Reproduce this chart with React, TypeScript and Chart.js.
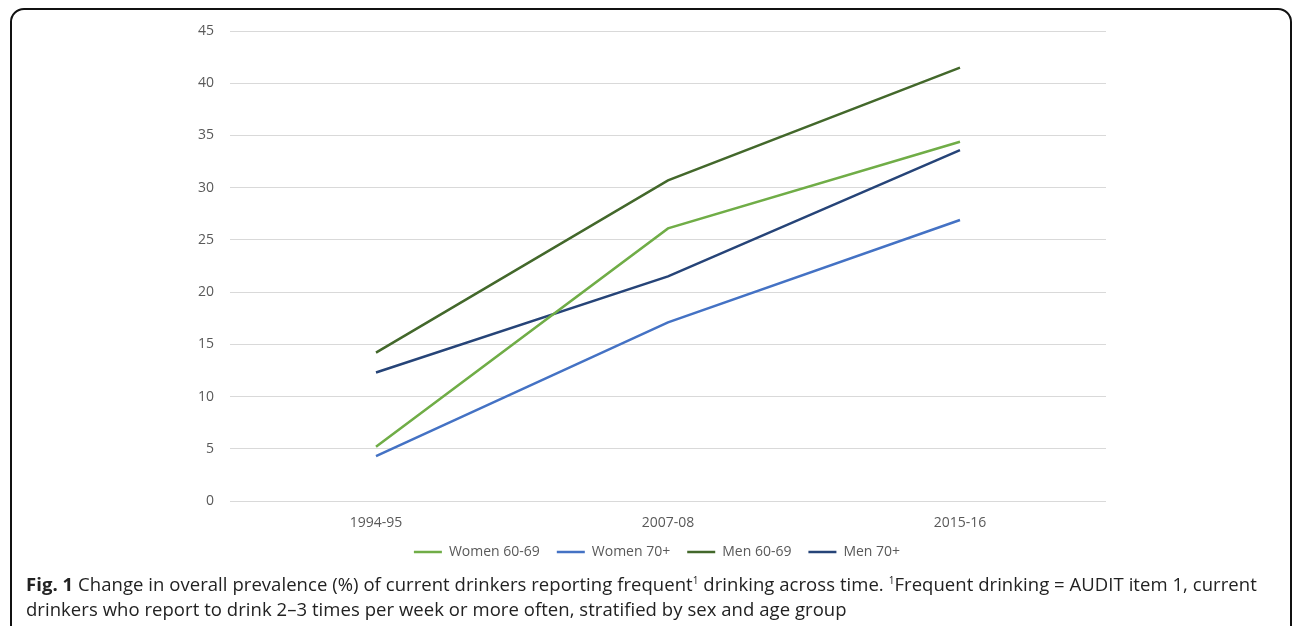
import React, { useEffect, useRef } from "react";
import { Chart, registerables } from "chart.js";

Chart.register(...registerables);

const categories = ["1994-95", "2007-08", "2015-16"];
const women6069 = [5.2, 26.1, 34.4];
const women70 = [4.3, 17.1, 26.9];
const men6069 = [14.2, 30.7, 41.5];
const men70 = [12.3, 21.5, 33.6];
const seriesNames = ["Women 60-69", "Women 70+", "Men 60-69", "Men 70+"];
const seriesColors = ["#70AD47", "#4472C4", "#43682B", "#264478"];

const FONT = "'Open Sans', 'Noto Sans', sans-serif";

const legendShift = {
  id: "legendShift",
  afterLayout(chart: any) {
    const lg = chart.legend;
    if (!lg) return;
    const dx = 104;
    const dy = -7;
    lg.left += dx;
    lg.right += dx;
    lg.top += dy;
    lg.bottom += dy;
    if (lg.legendHitBoxes) {
      lg.legendHitBoxes.forEach((b: any) => {
        b.left += dx;
        b.top += dy;
      });
    }
  },
};

export default function App() {
  const ref = useRef<HTMLCanvasElement | null>(null);

  useEffect(() => {
    if (!ref.current) return;
    const values = [women6069, women70, men6069, men70];
    const chart = new Chart(ref.current, {
      type: "line",
      data: {
        labels: categories,
        datasets: values.map((v, i) => ({
          label: seriesNames[i],
          data: v,
          borderColor: seriesColors[i],
          backgroundColor: seriesColors[i],
          borderWidth: 2.5,
          pointRadius: 0,
          tension: 0,
          fill: false,
        })),
      },
      plugins: [legendShift],
      options: {
        responsive: false,
        animation: false,
        layout: { padding: { left: 0, right: 186, top: 31, bottom: 0 } },
        plugins: {
          tooltip: { enabled: false },
          legend: {
            position: "bottom",
            labels: {
              usePointStyle: true,
              pointStyle: "line",
              pointStyleWidth: 28,
              boxHeight: 14,
              padding: 17,
              color: "#595959",
              font: { family: FONT, size: 14 },
            },
          },
        },
        scales: {
          x: {
            offset: true,
            grid: { display: false },
            border: { display: false },
            ticks: { color: "#595959", font: { family: FONT, size: 14 }, padding: 6 },
            afterFit: (s: any) => {
              s.height = 34;
            },
          },
          y: {
            min: 0,
            max: 45,
            grid: { color: "#d9d9d9", lineWidth: 1, drawTicks: false },
            border: { display: false },
            ticks: {
              stepSize: 5,
              color: "#595959",
              font: { family: FONT, size: 14 },
              padding: 16,
            },
            afterFit: (s: any) => {
              s.width = 230;
            },
          },
        },
      },
    });
    return () => chart.destroy();
  }, []);

  return (
    <div
      style={{
        position: "absolute",
        left: 0,
        top: 0,
        width: 1292,
        height: 626,
        overflow: "hidden",
        background: "#fff",
      }}
    >
      <div
        style={{
          position: "absolute",
          left: 10,
          top: 8,
          width: 1278,
          height: 700,
          border: "2px solid #111",
          borderRadius: 14,
        }}
      />
      <canvas
        ref={ref}
        width={1292}
        height={576}
        style={{ position: "absolute", left: 0, top: 0 }}
      />
      <div
        style={{
          position: "absolute",
          left: 26,
          top: 571,
          width: 1266,
          fontFamily: FONT,
          fontSize: 18.5,
          letterSpacing: "0.05px",
          lineHeight: "25px",
          color: "#222",
          whiteSpace: "nowrap",
        }}
      >
        <b>Fig. 1</b> Change in overall prevalence (%) of current drinkers reporting frequent
        <sup style={{ fontSize: 10, lineHeight: 0 }}>1</sup> drinking across time.{" "}
        <sup style={{ fontSize: 10, lineHeight: 0 }}>1</sup>Frequent drinking = AUDIT item 1, current
        <br />
        drinkers who report to drink 2–3 times per week or more often, stratified by sex and age group
      </div>
    </div>
  );
}
